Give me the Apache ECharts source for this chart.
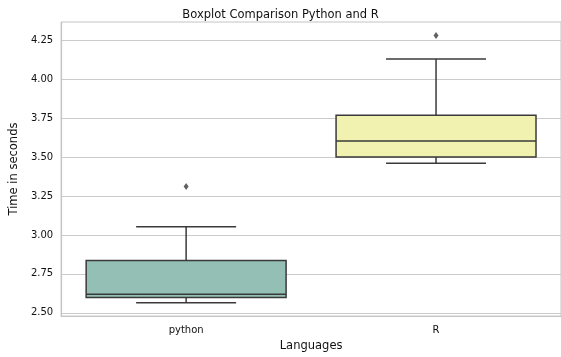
<!DOCTYPE html>
<html>
<head>
<meta charset="utf-8">
<script src="https://cdn.jsdelivr.net/npm/echarts@6/dist/echarts.min.js"></script>
<style>html,body{margin:0;padding:0;background:#fff}#c{width:561px;height:357px}</style>
</head>
<body>
<div id="c"></div>
<script>
const categories = ['python', 'R'];
// [low whisker, Q1, median, Q3, high whisker]
const boxStats = [
  [2.565, 2.599, 2.620, 2.836, 3.053],
  [3.460, 3.500, 3.603, 3.768, 4.130]
];
const outliers = [
  ['python', 3.311],
  ['R', 4.281]
];
const yTicks = [2.50, 2.75, 3.00, 3.25, 3.50, 3.75, 4.00, 4.25];
const boxColors = ['#93bfb4', '#f2f2b0'];

const font = 'DejaVu Sans';
const edge = '#3a3a3a';

const boxData = boxStats.map((s, i) => [i].concat(s));

const chart = echarts.init(document.getElementById('c'), null, {renderer: 'canvas'});
chart.setOption({
  animation: false,
  backgroundColor: '#ffffff',
  title: {
    text: 'Boxplot Comparison Python and R',
    left: 'center', top: 4,
    textStyle: {fontFamily: font, fontSize: 11.5, fontWeight: 'normal', color: '#111'}
  },
  grid: {left: 60, top: 22, width: 507, height: 299, containLabel: false,
         show: true, borderColor: '#c4c4c4', borderWidth: 1},
  xAxis: {
    type: 'category', data: categories,
    name: 'Languages', nameLocation: 'middle', nameGap: 21,
    nameTextStyle: {fontFamily: font, fontSize: 11.5, color: '#111'},
    axisLine: {show: true, lineStyle: {color: '#c4c4c4', width: 1.2}},
    axisTick: {show: false},
    axisLabel: {fontFamily: font, fontSize: 10, color: '#111', margin: 9},
    splitLine: {show: false}
  },
  yAxis: {
    type: 'value', min: 2.479, max: 4.367,
    name: 'Time in seconds', nameLocation: 'middle', nameGap: 32,
    nameTextStyle: {fontFamily: font, fontSize: 11.5, color: '#111'},
    axisLine: {show: true, lineStyle: {color: '#c4c4c4', width: 1.2}},
    axisTick: {show: false, customValues: yTicks},
    axisLabel: {fontFamily: font, fontSize: 10, color: '#111', margin: 8,
                customValues: yTicks, formatter: v => v.toFixed(2)},
    splitLine: {show: true, lineStyle: {color: '#cbcbcb', width: 1.2}}
  },
  series: [
    {
      type: 'custom',
      data: boxData,
      encode: {x: 0, y: [1, 2, 3, 4, 5]},
      renderItem: function (params, api) {
        const idx = api.value(0);
        const band = api.size([1, 0])[0];
        const half = band * 0.4;
        const capHalf = band * 0.2;
        const pLow = api.coord([idx, api.value(1)]);
        const pQ1 = api.coord([idx, api.value(2)]);
        const pMed = api.coord([idx, api.value(3)]);
        const pQ3 = api.coord([idx, api.value(4)]);
        const pHigh = api.coord([idx, api.value(5)]);
        const x = pQ1[0];
        const ls = {stroke: edge, lineWidth: 1.5};
        return {
          type: 'group',
          children: [
            {type: 'line', shape: {x1: x, y1: pQ3[1], x2: x, y2: pHigh[1]}, style: ls},
            {type: 'line', shape: {x1: x, y1: pQ1[1], x2: x, y2: pLow[1]}, style: ls},
            {type: 'line', shape: {x1: x - capHalf, y1: pHigh[1], x2: x + capHalf, y2: pHigh[1]}, style: ls},
            {type: 'line', shape: {x1: x - capHalf, y1: pLow[1], x2: x + capHalf, y2: pLow[1]}, style: ls},
            {type: 'rect', shape: {x: x - half, y: pQ3[1], width: half * 2, height: pQ1[1] - pQ3[1]},
             style: {fill: boxColors[idx], stroke: edge, lineWidth: 1.5}},
            {type: 'line', shape: {x1: x - half, y1: pMed[1], x2: x + half, y2: pMed[1]}, style: ls}
          ]
        };
      }
    },
    {
      type: 'scatter',
      data: outliers,
      symbol: 'diamond',
      symbolSize: [5, 7],
      itemStyle: {color: '#3a3a3a'}
    }
  ]
});
</script>
</body>
</html>
